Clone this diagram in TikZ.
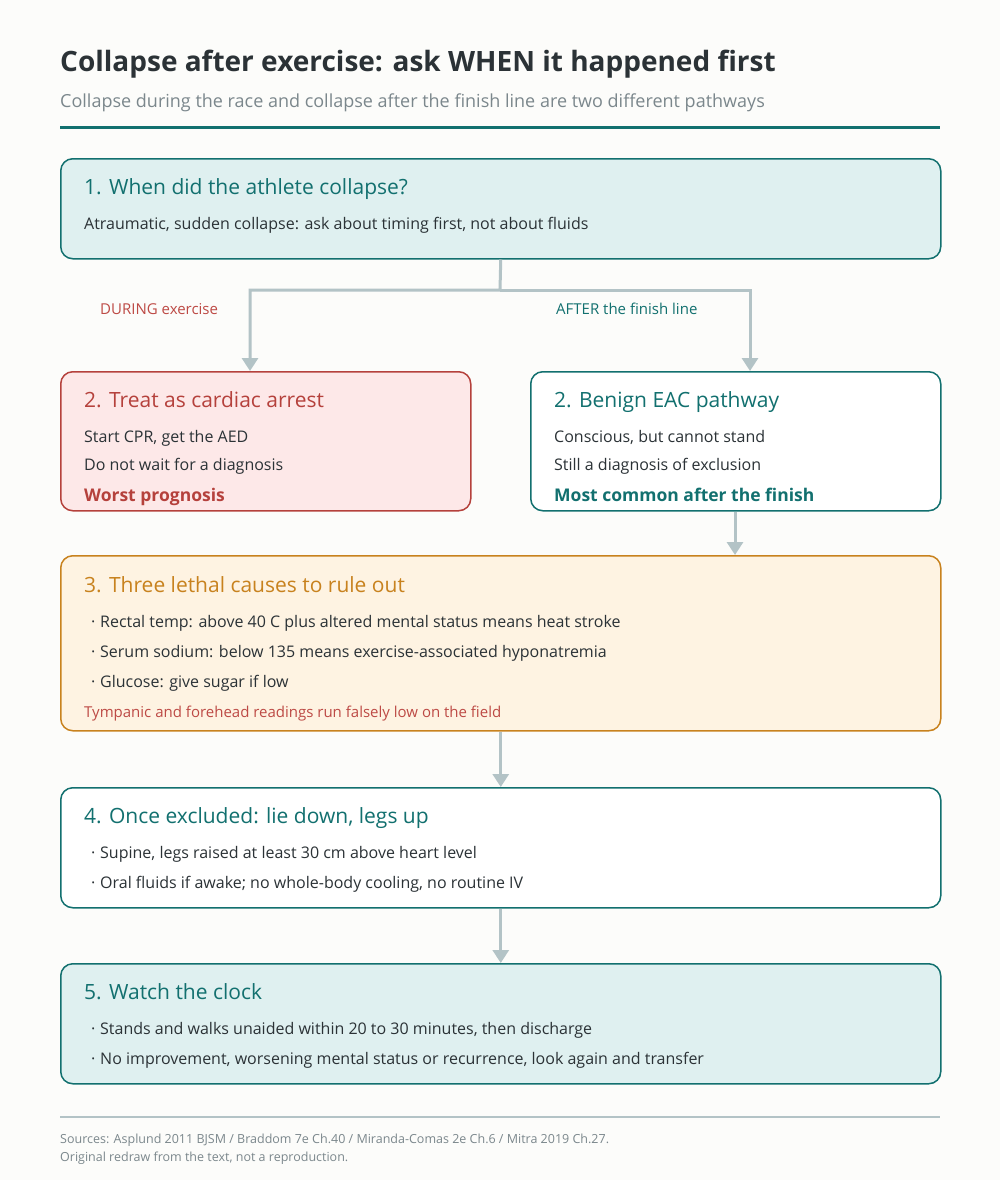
\documentclass[tikz,border=0pt]{standalone}
\usepackage{fontspec}
\setmainfont{Open Sans}
\usetikzlibrary{arrows.meta}

\definecolor{pagebg}{HTML}{FCFCFA}
\definecolor{tealline}{HTML}{12706F}
\definecolor{tealfill}{HTML}{DFF0F0}
\definecolor{redline}{HTML}{B5413C}
\definecolor{redfill}{HTML}{FDE8E8}
\definecolor{redtext}{HTML}{BD4A45}
\definecolor{orline}{HTML}{C8821E}
\definecolor{orfill}{HTML}{FEF3E2}
\definecolor{linkgray}{HTML}{B3C3C6}
\definecolor{inkdark}{HTML}{2B3236}
\definecolor{subgray}{HTML}{7B878C}

\newcommand{\bul}{\makebox[9pt][l]{·}}

\tikzset{
  stepbox/.style={draw, line width=1.5pt, rounded corners=12pt, anchor=north west,
    inner sep=0pt, minimum width=880pt},
  head/.style={anchor=base west, inner sep=0pt, font=\fontsize{21}{25}\selectfont},
  body/.style={anchor=base west, inner sep=0pt, font=\fontsize{16}{19}\selectfont, text=inkdark},
  branch/.style={anchor=base west, inner sep=0pt, font=\fontsize{15}{18}\selectfont},
  link/.style={draw=linkgray, line width=3pt, -{Triangle[width=16pt,length=13pt]}},
}

\begin{document}
\begin{tikzpicture}[x=1pt,y=-1pt]
  \fill[pagebg] (0,0) rectangle (1000,1180);
  \useasboundingbox (0,0) rectangle (1000,1180);

  % title block
  \node[anchor=base west, inner sep=0pt, font=\fontsize{28}{33}\selectfont\bfseries, text=inkdark]
    (title) at (60,72) {Collapse after exercise: ask WHEN it happened first};
  \node[anchor=base west, inner sep=0pt, font=\fontsize{18}{21}\selectfont, text=subgray]
    (subtitle) at (60,108) {Collapse during the race and collapse after the finish line are two different pathways};
  \draw[tealline, line width=3pt] (60,128) -- (940,128);

  % step 1
  \node[stepbox, draw=tealline, fill=tealfill, minimum height=100pt] (q1) at (60,158) {};
  \node[head, text=tealline] (q1h) at (84,194) {1. When did the athlete collapse?};
  \node[body] (q1b) at (84,229) {Atraumatic, sudden collapse: ask about timing first, not about fluids};

  % step 2, two ways
  \node[stepbox, draw=redline, fill=redfill, minimum width=410pt, minimum height=139pt] (arrest) at (60,371) {};
  \node[head, text=redline] (arresth) at (84,407) {2. Treat as cardiac arrest};
  \node[body] (arrest1) at (84,442) {Start CPR, get the AED};
  \node[body] (arrest2) at (84,470) {Do not wait for a diagnosis};
  \node[head, text=redline, font=\fontsize{17.5}{21}\selectfont\bfseries] (arrest3) at (84,501) {Worst prognosis};

  \node[stepbox, draw=tealline, fill=white, minimum width=410pt, minimum height=139pt] (eac) at (530,371) {};
  \node[head, text=tealline] (each) at (554,407) {2. Benign EAC pathway};
  \node[body] (eac1) at (554,442) {Conscious, but cannot stand};
  \node[body] (eac2) at (554,470) {Still a diagnosis of exclusion};
  \node[head, text=tealline, font=\fontsize{17.5}{21}\selectfont\bfseries] (eac3) at (554,501) {Most common after the finish};

  \coordinate (split) at (500,290);
  \coordinate (inL) at (250,371);
  \coordinate (inR) at (750,371);
  \draw[link] (q1.south) -- (split) -| (inL);
  \draw[link] (split) -| (inR);
  \node[branch, text=redtext] (during) at (100,314) {DURING exercise};
  \node[branch, text=tealline] (after) at (556,314) {AFTER the finish line};

  % step 3
  \node[stepbox, draw=orline, fill=orfill, minimum height=175pt] (rule) at (60,555) {};
  \node[head, text=orline] (ruleh) at (84,592) {3. Three lethal causes to rule out};
  \foreach \t [count=\i] in {{Rectal temp: above 40 C plus altered mental status means heat stroke},
      {Serum sodium: below 135 means exercise-associated hyponatremia},
      {Glucose: give sugar if low}}
    \node[body] (rule\i) at (91,597+30*\i) {\bul\t};
  \node[branch, text=redtext] (rulenote) at (84,717) {Tympanic and forehead readings run falsely low on the field};
  \draw[link] (eac.south -| 735,0) -- (rule.north -| 735,0);

  % step 4
  \node[stepbox, draw=tealline, fill=white, minimum height=120pt] (legs) at (60,787) {};
  \node[head, text=tealline] (legsh) at (84,823) {4. Once excluded: lie down, legs up};
  \foreach \t [count=\i] in {{Supine, legs raised at least 30 cm above heart level},
      {Oral fluids if awake; no whole-body cooling, no routine IV}}
    \node[body] (legs\i) at (91,828+30*\i) {\bul\t};
  \draw[link] (rule.south) -- (legs.north);

  % step 5
  \node[stepbox, draw=tealline, fill=tealfill, minimum height=120pt] (clock) at (60,963) {};
  \node[head, text=tealline] (clockh) at (84,999) {5. Watch the clock};
  \foreach \t [count=\i] in {{Stands and walks unaided within 20 to 30 minutes, then discharge},
      {No improvement, worsening mental status or recurrence, look again and transfer}}
    \node[body] (clock\i) at (91,1004+30*\i) {\bul\t};
  \draw[link] (legs.south) -- (clock.north);

  % sources
  \draw[linkgray, line width=2pt] (60,1117) -- (940,1117);
  \node[anchor=base west, inner sep=0pt, font=\fontsize{12.5}{15}\selectfont, text=subgray]
    (src1) at (60,1143) {Sources: Asplund 2011 BJSM / Braddom 7e Ch.40 / Miranda-Comas 2e Ch.6 / Mitra 2019 Ch.27.};
  \node[anchor=base west, inner sep=0pt, font=\fontsize{12.5}{15}\selectfont, text=subgray]
    (src2) at (60,1161) {Original redraw from the text, not a reproduction.};
\end{tikzpicture}
\end{document}
